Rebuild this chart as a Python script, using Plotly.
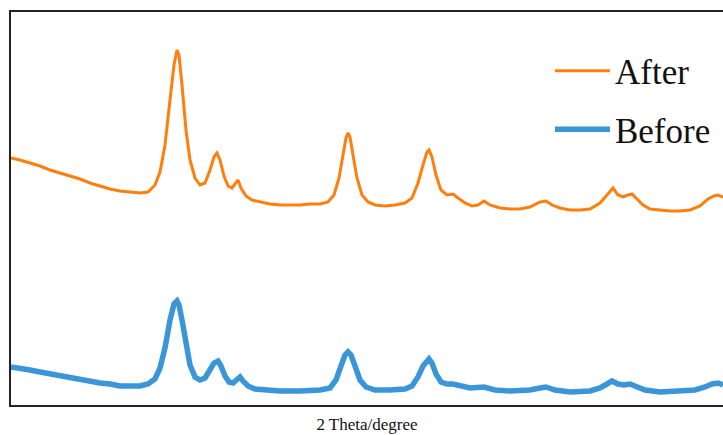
import plotly.graph_objects as go

# ---- data (2θ in degrees, intensity in a.u.) ----
two_theta_after = [10.0, 10.9, 11.9, 12.9, 13.9, 14.9, 15.9, 16.9, 17.9, 18.9, 19.9, 20.9, 21.9, 22.9,
                   23.7, 24.4, 24.9, 25.4, 25.9, 26.3, 26.6, 26.8, 27.1, 27.5, 27.9, 28.4, 28.9, 29.4,
                   29.9, 30.3, 30.6, 30.9, 31.3, 31.7, 32.1, 32.4, 32.7, 33.0, 33.5, 34.1, 34.9, 35.9,
                   36.9, 37.9, 38.9, 39.9, 40.9, 41.7, 42.3, 42.8, 43.2, 43.5, 43.7, 43.9, 44.2, 44.6,
                   45.1, 45.7, 46.4, 47.4, 48.4, 49.4, 50.1, 50.7, 51.2, 51.6, 51.8, 52.1, 52.5, 53.0,
                   53.6, 54.2, 54.7, 55.4, 56.1, 56.7, 57.3, 57.9, 58.9, 59.9, 60.9, 61.9, 62.9, 63.5,
                   64.1, 64.9, 65.9, 66.9, 67.9, 68.9, 69.6, 70.2, 70.7, 71.2, 71.7, 72.1, 72.6, 73.2,
                   73.9, 74.9, 75.9, 76.9, 77.9, 78.9, 79.7, 80.3, 80.7, 81.2]
intensity_after = [247, 245, 242, 239, 235, 232, 229, 226, 222, 219, 216, 214, 213, 212,
                   213, 220, 233, 260, 305, 340, 355, 350, 320, 275, 245, 227, 220, 222,
                   235, 248, 252, 245, 229, 219, 217, 221, 225, 217, 209, 205, 203, 201,
                   200, 200, 200, 201, 201, 203, 210, 227, 250, 267, 272, 268, 250, 227,
                   210, 203, 200, 199, 200, 202, 207, 222, 240, 253, 255, 248, 230, 215,
                   210, 211, 207, 202, 199, 200, 204, 200, 197, 196, 196, 198, 203, 204,
                   200, 197, 195, 195, 196, 202, 210, 217, 210, 208, 210, 211, 206, 200,
                   196, 195, 194, 194, 195, 199, 206, 209, 210, 208]

two_theta_before = [10.0, 10.9, 11.9, 12.9, 13.9, 14.9, 15.9, 16.9, 17.9, 18.9, 19.9, 20.9, 21.9, 22.9,
                    23.7, 24.4, 24.9, 25.4, 25.9, 26.3, 26.6, 26.8, 27.1, 27.5, 27.9, 28.4, 28.9, 29.4,
                    29.9, 30.3, 30.7, 31.0, 31.4, 31.8, 32.2, 32.6, 32.9, 33.2, 33.7, 34.4, 35.4, 36.9,
                    38.9, 40.9, 41.9, 42.5, 43.0, 43.4, 43.7, 44.0, 44.4, 44.9, 45.5, 46.4, 47.9, 49.4,
                    50.1, 50.7, 51.2, 51.6, 51.8, 52.1, 52.5, 53.0, 53.6, 54.2, 54.9, 55.9, 57.3, 58.4,
                    59.9, 61.9, 62.9, 63.5, 64.4, 65.9, 67.9, 68.9, 69.6, 70.1, 70.7, 71.3, 71.9, 72.6,
                    73.4, 74.9, 76.9, 78.4, 79.4, 80.1, 80.7, 81.2]
intensity_before = [38, 37, 35, 33, 31, 29, 27, 25, 23, 22, 21, 19, 19, 19,
                    21, 26, 37, 57, 85, 101, 104, 100, 85, 60, 40, 28, 25, 27,
                    35, 42, 44, 39, 29, 23, 22, 25, 28, 24, 19, 16, 15, 14,
                    14, 15, 17, 25, 39, 50, 53, 50, 39, 25, 18, 15, 15, 16,
                    19, 28, 39, 45, 46, 42, 31, 23, 21, 21, 19, 17, 18, 15,
                    14, 15, 17, 18, 15, 13, 14, 17, 21, 24, 21, 20, 21, 18,
                    15, 13, 14, 15, 18, 21, 22, 20]

series_names = ["After", "Before"]
series_colors = ["#ff7f0e", "#3a96d8"]

fig = go.Figure()
fig.add_trace(go.Scatter(x=two_theta_after, y=intensity_after, mode="lines",
                         name=series_names[0], legendgroup="g1",
                         line=dict(color=series_colors[0], width=3)))
fig.add_trace(go.Scatter(x=two_theta_before, y=intensity_before, mode="lines",
                         name=series_names[1], legendgroup="g2",
                         line=dict(color=series_colors[1], width=5.5)))

fig.update_layout(
    width=723, height=435,
    margin=dict(l=11, r=0, t=12, b=30),
    paper_bgcolor="white", plot_bgcolor="white",
    font=dict(family="Liberation Serif, Times New Roman, serif", color="#111"),
    legend=dict(x=0.757, y=0.925, xanchor="left", yanchor="top",
                font=dict(size=35, family="Liberation Serif, serif", color="#111"),
                bgcolor="rgba(0,0,0,0)", itemwidth=55, traceorder="grouped", tracegroupgap=10),
    xaxis=dict(range=[10, 81.2], showgrid=False, zeroline=False, showticklabels=False, ticks="",
               showline=True, linecolor="#222", linewidth=2, mirror=True,
               title=dict(text="2 Theta/degree", standoff=12,
                          font=dict(size=17, family="Liberation Serif, serif", color="#111"))),
    yaxis=dict(range=[0, 393], showgrid=False, zeroline=False, showticklabels=False, ticks="",
               showline=True, linecolor="#222", linewidth=2, mirror=False),
)

fig.write_html("out.html",
               config={"displayModeBar": False},
               post_script="document.body.style.margin='0';document.body.style.overflow='hidden';")
